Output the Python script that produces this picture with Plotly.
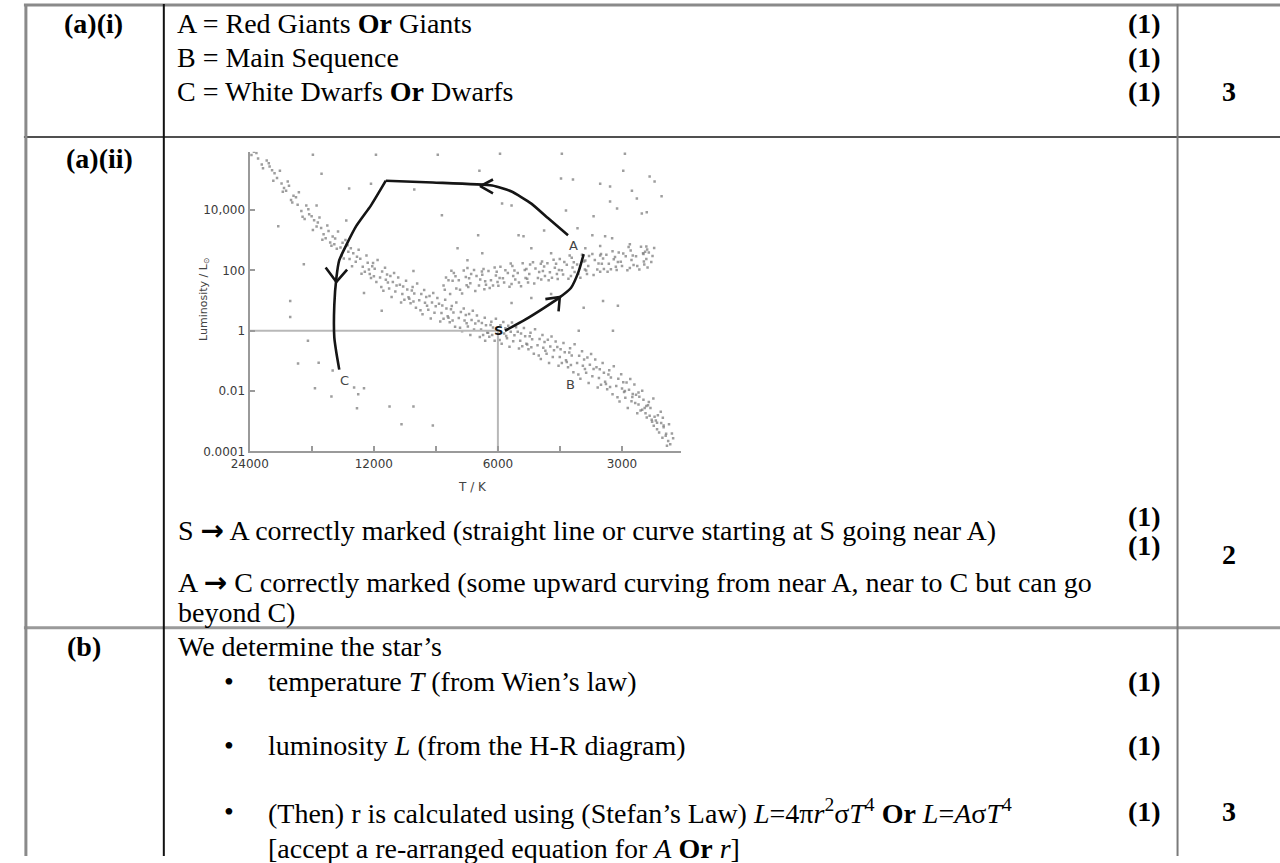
import numpy as np
import plotly.graph_objects as go

W, H = 1280, 863

# ---------------------------------------------------------------
# H-R diagram star samples, as (log10 T/K, log10 L/Lsun)
# ---------------------------------------------------------------
main_sequence = [
    (4.370, 5.94), (4.360, 5.72), (4.376, 5.83), (4.364, 5.90),
    (4.334, 5.56), (4.348, 5.39), (4.339, 5.65), (4.351, 5.52), (4.332, 5.45),
    (4.326, 5.33), (4.314, 5.07), (4.320, 5.23), (4.307, 5.31), (4.323, 4.98),
    (4.292, 4.65), (4.303, 4.89), (4.285, 4.81), (4.297, 4.74), (4.288, 4.95), (4.300, 4.61),
    (4.274, 4.48), (4.264, 4.18), (4.280, 4.34), (4.268, 4.43), (4.277, 4.26), (4.261, 4.60),
    (4.238, 4.03), (4.252, 3.78), (4.243, 4.16), (4.255, 3.97), (4.236, 3.87), (4.247, 3.71),
    (4.230, 3.80), (4.218, 3.46), (4.224, 3.67), (4.211, 3.76), (4.227, 3.34), (4.215, 3.59),
    (4.196, 3.07), (4.207, 3.41), (4.189, 3.31), (4.201, 3.20), (4.192, 3.49), (4.204, 3.02),
    (4.179, 3.13), (4.169, 2.72), (4.185, 2.93), (4.173, 3.06), (4.182, 2.82), (4.166, 3.29), (4.175, 2.87),
    (4.143, 2.84), (4.157, 2.50), (4.148, 3.01), (4.160, 2.76), (4.141, 2.62), (4.152, 2.40), (4.155, 2.92),
    (4.135, 2.74), (4.123, 2.29), (4.129, 2.57), (4.116, 2.69), (4.132, 2.14), (4.120, 2.46), (4.138, 2.38),
    (4.101, 1.96), (4.112, 2.39), (4.094, 2.26), (4.106, 2.12), (4.097, 2.50), (4.109, 1.89), (4.091, 2.03),
    (4.083, 2.14), (4.073, 1.62), (4.089, 1.88), (4.077, 2.06), (4.086, 1.75), (4.070, 2.35), (4.079, 1.81), (4.081, 2.25),
    (4.047, 1.87), (4.061, 1.45), (4.052, 2.09), (4.064, 1.77), (4.045, 1.60), (4.056, 1.33), (4.059, 1.97), (4.050, 1.69),
    (4.039, 1.82), (4.027, 1.30), (4.033, 1.62), (4.020, 1.77), (4.036, 1.12), (4.024, 1.50), (4.042, 1.40), (4.030, 1.92),
    (4.005, 1.03), (4.016, 1.53), (3.998, 1.37), (4.010, 1.22), (4.001, 1.66), (4.013, 0.94), (3.995, 1.11), (4.008, 1.47),
    (3.987, 1.34), (3.977, 0.76), (3.993, 1.06), (3.981, 1.24), (3.990, 0.91), (3.974, 1.57), (3.983, 0.97), (3.985, 1.45),
    (3.952, 1.12), (3.966, 0.68), (3.957, 1.35), (3.969, 1.01), (3.950, 0.83), (3.961, 0.55), (3.964, 1.22), (3.955, 0.93),
    (3.944, 1.15), (3.932, 0.60), (3.938, 0.94), (3.925, 1.09), (3.941, 0.41), (3.929, 0.81), (3.947, 0.70), (3.935, 1.25),
    (3.910, 0.40), (3.921, 0.90), (3.903, 0.74), (3.915, 0.59), (3.906, 1.03), (3.918, 0.31), (3.900, 0.48), (3.913, 0.84),
    (3.892, 0.71), (3.882, 0.13), (3.898, 0.43), (3.886, 0.61), (3.895, 0.28), (3.879, 0.94), (3.888, 0.34), (3.890, 0.82),
    (3.856, 0.52), (3.870, 0.10), (3.861, 0.74), (3.873, 0.42), (3.854, 0.25), (3.865, -0.02), (3.868, 0.62), (3.859, 0.34),
    (3.848, 0.56), (3.836, 0.04), (3.842, 0.36), (3.829, 0.51), (3.845, -0.14), (3.833, 0.24), (3.851, 0.14), (3.839, 0.66),
    (3.814, -0.14), (3.825, 0.32), (3.807, 0.18), (3.819, 0.04), (3.810, 0.43), (3.822, -0.21), (3.804, -0.06), (3.817, 0.26),
    (3.796, 0.19), (3.786, -0.33), (3.802, -0.07), (3.790, 0.11), (3.799, -0.20), (3.783, 0.40), (3.792, -0.14), (3.794, 0.30),
    (3.760, 0.08), (3.774, -0.31), (3.765, 0.29), (3.777, -0.01), (3.758, -0.17), (3.769, -0.43), (3.772, 0.18), (3.763, -0.09),
    (3.753, 0.17), (3.741, -0.35), (3.747, -0.03), (3.734, 0.12), (3.750, -0.53), (3.738, -0.15), (3.756, -0.25), (3.744, 0.27),
    (3.719, -0.51), (3.730, -0.03), (3.712, -0.18), (3.724, -0.33), (3.715, 0.09), (3.727, -0.59), (3.709, -0.43), (3.722, -0.09),
    (3.701, -0.18), (3.691, -0.76), (3.707, -0.46), (3.695, -0.28), (3.704, -0.61), (3.688, 0.05), (3.697, -0.55), (3.699, -0.07),
    (3.665, -0.37), (3.679, -0.82), (3.670, -0.14), (3.682, -0.48), (3.663, -0.66), (3.674, -0.94), (3.677, -0.27), (3.668, -0.56),
    (3.657, -0.30), (3.645, -0.87), (3.651, -0.52), (3.638, -0.36), (3.654, -1.07), (3.642, -0.65), (3.660, -0.76), (3.648, -0.19),
    (3.623, -1.07), (3.634, -0.54), (3.616, -0.71), (3.628, -0.87), (3.619, -0.41), (3.631, -1.16), (3.613, -0.98), (3.626, -0.61),
    (3.605, -0.72), (3.595, -1.38), (3.611, -1.04), (3.599, -0.82), (3.608, -1.21), (3.592, -0.45), (3.601, -1.14), (3.603, -0.58),
    (3.569, -0.95), (3.583, -1.45), (3.574, -0.68), (3.586, -1.07), (3.567, -1.27), (3.578, -1.59), (3.581, -0.83), (3.572, -1.16),
    (3.561, -0.89), (3.549, -1.51), (3.555, -1.13), (3.542, -0.95), (3.558, -1.73), (3.546, -1.27), (3.564, -1.39), (3.552, -0.77),
    (3.528, -1.79), (3.539, -1.21), (3.521, -1.39), (3.533, -1.57), (3.524, -1.07), (3.536, -1.88), (3.518, -1.69), (3.531, -1.28),
    (3.510, -1.45), (3.500, -2.11), (3.516, -1.77), (3.504, -1.55), (3.513, -1.94), (3.497, -1.18), (3.506, -1.87), (3.508, -1.31),
    (3.474, -1.71), (3.488, -2.21), (3.479, -1.44), (3.491, -1.83), (3.472, -2.03), (3.483, -2.35), (3.486, -1.59), (3.477, -1.92),
    (3.466, -1.72), (3.454, -2.34), (3.460, -1.96), (3.447, -1.78), (3.463, -2.56), (3.451, -2.10), (3.469, -2.22), (3.457, -1.60),
    (3.432, -2.65), (3.443, -2.12), (3.425, -2.29), (3.437, -2.45), (3.428, -1.99), (3.440, -2.74), (3.422, -2.56), (3.435, -2.19),
    (3.414, -2.47), (3.404, -3.02), (3.420, -2.74), (3.408, -2.56), (3.417, -2.88), (3.401, -2.25), (3.410, -2.82), (3.412, -2.36),
    (3.378, -2.89), (3.392, -3.27), (3.383, -2.69), (3.395, -2.98), (3.376, -3.14), (3.387, -3.38), (3.390, -2.80),
    (3.382, -3.06), (3.370, -3.42), (3.376, -3.20), (3.363, -3.10), (3.379, -3.55),
    (3.360, -3.77), (3.371, -3.48), (3.353, -3.57), (3.365, -3.66), (3.356, -3.41), (3.368, -3.82),
    (3.445, -2.40), (3.428, -2.62), (3.418, -2.50), (3.398, -2.85), (3.392, -3.05), (3.470, -2.00),
    (3.452, -2.20), (3.437, -2.05), (3.400, -3.15), (3.405, -2.95),
]

giant_branch = [
    (3.904, 1.77), (3.894, 1.22), (3.910, 1.50), (3.898, 1.68), (3.907, 1.36), (3.891, 1.99),
    (3.885, 1.92), (3.879, 1.40), (3.888, 1.66), (3.881, 1.81),
    (3.856, 1.78), (3.870, 1.36), (3.861, 2.00), (3.873, 1.68), (3.854, 1.51), (3.865, 1.24),
    (3.850, 1.45), (3.843, 1.88), (3.852, 2.08), (3.845, 1.58), (3.848, 1.74),
    (3.836, 2.02), (3.824, 1.50), (3.830, 1.82), (3.817, 1.97), (3.833, 1.32), (3.821, 1.70),
    (3.813, 2.05), (3.807, 1.53), (3.816, 1.86), (3.809, 1.64), (3.811, 1.38),
    (3.790, 1.50), (3.801, 1.98), (3.783, 1.83), (3.795, 1.68), (3.786, 2.10), (3.798, 1.42),
    (3.779, 1.62), (3.772, 2.12), (3.781, 1.96), (3.774, 1.75), (3.777, 1.49),
    (3.760, 2.01), (3.750, 1.46), (3.766, 1.74), (3.754, 1.92), (3.763, 1.60), (3.747, 2.23),
    (3.743, 2.15), (3.736, 1.70), (3.745, 1.55), (3.738, 2.00), (3.741, 1.82),
    (3.713, 2.02), (3.727, 1.60), (3.718, 2.24), (3.730, 1.92), (3.711, 1.75), (3.722, 1.48),
    (3.707, 1.73), (3.700, 2.20), (3.709, 2.05), (3.702, 1.88), (3.705, 1.60),
    (3.693, 2.27), (3.681, 1.75), (3.687, 2.07), (3.674, 2.22), (3.690, 1.57), (3.678, 1.95),
    (3.671, 2.30), (3.664, 1.82), (3.673, 1.70), (3.666, 2.13), (3.669, 1.98),
    (3.647, 1.76), (3.658, 2.24), (3.640, 2.09), (3.652, 1.94), (3.643, 2.36), (3.655, 1.68),
    (3.635, 1.88), (3.628, 2.38), (3.637, 2.22), (3.630, 2.02), (3.633, 1.72),
    (3.617, 2.28), (3.607, 1.73), (3.623, 2.01), (3.611, 2.19), (3.620, 1.87), (3.604, 2.50),
    (3.599, 2.42), (3.592, 1.95), (3.601, 1.82), (3.594, 2.27), (3.597, 2.10),
    (3.569, 2.30), (3.583, 1.88), (3.574, 2.52), (3.586, 2.20), (3.567, 2.03), (3.578, 1.76),
    (3.564, 2.00), (3.557, 2.48), (3.566, 2.33), (3.559, 2.15), (3.562, 1.88),
    (3.549, 2.55), (3.537, 2.03), (3.543, 2.35), (3.530, 2.50), (3.546, 1.85), (3.534, 2.23),
    (3.528, 2.55), (3.521, 2.05), (3.530, 1.96), (3.523, 2.40), (3.526, 2.22),
    (3.504, 2.04), (3.515, 2.52), (3.497, 2.37), (3.509, 2.22), (3.500, 2.64), (3.512, 1.96),
    (3.492, 2.12), (3.485, 2.60), (3.494, 2.45), (3.487, 2.28), (3.490, 2.02),
    (3.474, 2.56), (3.464, 2.01), (3.480, 2.29), (3.468, 2.47), (3.477, 2.15), (3.461, 2.78),
    (3.456, 2.66), (3.449, 2.18), (3.458, 2.08), (3.451, 2.50), (3.454, 2.35),
    (3.426, 2.57), (3.440, 2.15), (3.431, 2.79), (3.443, 2.47), (3.424, 2.30), (3.435, 2.03),
    (3.423, 2.20), (3.416, 2.70), (3.425, 2.55), (3.418, 2.38), (3.421, 2.62),
    (3.418, 2.80), (3.406, 2.28), (3.412, 2.60), (3.399, 2.75), (3.415, 2.10), (3.403, 2.48),
    (3.570, 0.76), (3.523, 0.99), (3.487, 0.83), (3.499, 0.00), (3.582, 0.00), (3.745, 0.92),
    (3.697, 1.09), (3.649, 1.22),
]

bright_scatter = [
    (4.227, 5.84), (4.074, 5.84), (3.924, 5.84), (4.206, 5.21), (4.139, 4.72), (4.086, 4.88),
    (4.218, 4.16), (4.311, 3.47), (4.146, 3.66), (3.981, 4.69), (3.914, 3.83), (3.823, 5.31),
    (3.826, 3.17), (3.983, 1.98), (4.060, 0.66), (4.103, 1.25), (4.249, 2.21), (4.282, 0.46),
    (4.282, 0.99), (3.773, 5.87), (3.623, 5.87), (3.470, 5.87), (3.474, 5.31), (3.625, 5.05),
    (3.596, 5.02), (3.530, 4.88), (3.506, 4.79), (3.410, 5.12), (3.398, 4.95), (3.453, 4.65),
    (3.441, 4.39), (3.381, 4.46), (3.506, 4.29), (3.489, 4.06), (3.613, 3.99), (3.546, 3.80),
    (3.429, 3.89), (3.417, 3.93), (3.768, 4.22), (3.745, 4.16), (3.728, 3.17), (3.716, 3.14),
    (3.666, 3.33), (3.585, 3.40), (3.549, 3.17), (3.518, 3.14), (3.501, 3.07), (3.697, 2.74),
    (3.649, 2.57), (3.566, 2.74), (3.530, 2.81), (3.458, 2.87), (3.876, 2.74), (3.852, 2.34),
    (3.816, 2.57),
]

white_dwarfs = [
    (4.239, -0.33), (4.263, -1.09), (4.213, -1.06), (4.179, -1.32), (4.222, -1.91),
    (4.127, -1.88), (4.103, -1.91), (4.117, -2.11), (4.182, -2.18), (4.120, -2.57),
    (4.041, -2.51), (3.983, -2.51), (4.012, -3.10), (3.936, -3.14), (3.809, -0.33),
]

# Hand-drawn evolutionary track (log10 T, log10 L)
track_s_to_a = [(3.761, 0.00), (3.713, 0.36), (3.666, 0.76), (3.630, 1.09),
                (3.601, 1.42), (3.582, 1.98), (3.570, 2.54)]
track_a_to_top = [(3.608, 3.17), (3.656, 3.73), (3.697, 4.22), (3.745, 4.62), (3.792, 4.82),
                  (3.936, 4.92), (4.050, 4.98)]
track_top_to_c = [(4.050, 4.98), (4.086, 4.16), (4.122, 3.47), (4.146, 2.84), (4.163, 2.34),
                  (4.170, 1.75), (4.175, 0.86), (4.175, -0.23), (4.170, -0.73), (4.163, -1.29)]
arrow_top = [(3.790, 5.02), (3.821, 4.80), (3.790, 4.56)]
arrow_left = [(4.196, 2.10), (4.170, 1.62), (4.144, 2.03)]
arrow_sa = [(3.663, 1.05), (3.628, 1.12), (3.631, 0.64)]

region_labels = ["A", "B", "C"]
region_label_pos = [(3.594, 2.84), (3.601, -1.78), (4.151, -1.65)]
sun_label_pos = (3.776, 0.0)

sun_temp, sun_lum = 6000, 1
temp_ticks = [24000, 16970, 12000, 8485, 6000, 4243, 3000]
temp_tick_text = ["24000", "", "12000", "", "6000", "", "3000"]
lum_ticks = [1e4, 1e2, 1, 1e-2, 1e-4]
lum_tick_text = ["10,000", "100", "1", "0.01", "0.0001"]

# ---------------------------------------------------------------
# Mark scheme text
# ---------------------------------------------------------------
ARROW = '<span style="font-family:DejaVu Sans"><b>→</b></span>'
part_labels = ["(a)(i)", "(a)(ii)", "(b)"]
part_a_i = ["A = Red Giants <b>Or</b> Giants",
            "B = Main Sequence",
            "C = White Dwarfs <b>Or</b> Dwarfs"]
part_a_ii = [f"S {ARROW} A correctly marked (straight line or curve starting at S going near A)",
             f"A {ARROW} C correctly marked (some upward curving from near A, near to C but can go",
             "beyond C)"]
part_b_intro = "We determine the star’s"
part_b_points = ["temperature <i>T</i> (from Wien’s law)",
                 "luminosity <i>L</i> (from the H-R diagram)",
                 "(Then) r is calculated using (Stefan’s Law) <i>L</i>=4π<i>r</i><sup>2</sup>σ<i>T</i><sup>4</sup>"
                 " <b>Or</b> <i>L</i>=<i>A</i>σ<i>T</i><sup>4</sup>"]
part_b_note = "[accept a re-arranged equation for <i>A</i> <b>Or</b> <i>r</i>]"
mark_each = "(1)"
part_totals = ["3", "2", "3"]


def px(x):
    return x / W


def py(y):
    return 1 - y / H


SERIF = "Liberation Serif, Times New Roman, serif"
SANS = "DejaVu Sans, Verdana, sans-serif"
TS = 28

fig = go.Figure()

# star samples
for group in (main_sequence, giant_branch, bright_scatter, white_dwarfs):
    fig.add_trace(go.Scatter(
        x=[10 ** p[0] for p in group], y=[10 ** p[1] for p in group],
        mode="markers", hoverinfo="skip",
        marker=dict(size=2.5, color="#7d7d7d", opacity=0.75, symbol="square", line=dict(width=0)),
    ))

# Sun reference lines
fig.add_trace(go.Scatter(x=[24000, sun_temp], y=[sun_lum, sun_lum], mode="lines",
                         line=dict(color="#b8b8b8", width=2), hoverinfo="skip"))
fig.add_trace(go.Scatter(x=[sun_temp, sun_temp], y=[1e-4, sun_lum], mode="lines",
                         line=dict(color="#b8b8b8", width=2), hoverinfo="skip"))

# evolutionary track with arrow heads
for path, smooth in ((track_s_to_a, True), (track_a_to_top, True), (track_top_to_c, True),
                     (arrow_top, False), (arrow_left, False), (arrow_sa, False)):
    fig.add_trace(go.Scatter(
        x=[10 ** p[0] for p in path], y=[10 ** p[1] for p in path],
        mode="lines", hoverinfo="skip",
        line=dict(color="#151515", width=2.6,
                  shape="spline" if smooth else "linear", smoothing=0.5),
    ))

annotations = []
for lab, (lt, ll) in zip(region_labels, region_label_pos):
    annotations.append(dict(xref="x", yref="y", x=lt, y=ll, text=lab, showarrow=False,
                            font=dict(family=SANS, size=13, color="#444444")))
annotations.append(dict(xref="x", yref="y", x=sun_label_pos[0], y=sun_label_pos[1], text="<b>S</b>",
                        showarrow=False, font=dict(family=SANS, size=13, color="#111111")))

# axis titles
annotations.append(dict(xref="paper", yref="paper", x=px(460), y=py(491), text="T / K",
                        showarrow=False, font=dict(family=SANS, size=12, color="#444444")))
annotations.append(dict(xref="paper", yref="paper", x=px(178), y=py(302), text="Luminosity / L<sub>⊙</sub>",
                        textangle=-90, showarrow=False, font=dict(family=SANS, size=11, color="#444444")))


def put_text(x, y, s, anchor, bold=False, size=TS):
    annotations.append(dict(xref="paper", yref="paper", x=px(x), y=py(y), xanchor=anchor,
                            yanchor="middle", text=f"<b>{s}</b>" if bold else s, showarrow=False,
                            font=dict(family=SERIF, size=size, color="#000000")))


# row (a)(i)
put_text(44, 24, part_labels[0], "left", bold=True)
for yy, s in zip([24, 58, 92], part_a_i):
    put_text(158, yy, s, "left")
    put_text(1161, yy, mark_each, "right", bold=True)
put_text(1228, 92, part_totals[0], "center", bold=True)

# row (a)(ii)
put_text(46, 160, part_labels[1], "left", bold=True)
for yy, s in zip([535, 587, 618], part_a_ii):
    put_text(159, yy, s, "left")
put_text(1161, 521, mark_each, "right", bold=True)
put_text(1161, 550, mark_each, "right", bold=True)
put_text(1228, 559, part_totals[1], "center", bold=True)

# row (b)
put_text(47, 652, part_labels[2], "left", bold=True)
put_text(159, 652, part_b_intro, "left")
for yy, s in zip([687, 752, 818], part_b_points):
    put_text(206, yy, "•", "left")
    put_text(251, yy, s, "left")
    put_text(1161, yy, mark_each, "right", bold=True)
put_text(251, 855, part_b_note, "left")
put_text(1228, 818, part_totals[2], "center", bold=True)

# table rules
shapes = []


def hline(y, x0, x1, color, width):
    shapes.append(dict(type="line", xref="paper", yref="paper", x0=px(x0), x1=px(x1),
                       y0=py(y), y1=py(y), line=dict(color=color, width=width)))


def vline(x, y0, y1, color, width):
    shapes.append(dict(type="line", xref="paper", yref="paper", x0=px(x), x1=px(x),
                       y0=py(y0), y1=py(y1), line=dict(color=color, width=width)))


hline(5, 5, 1280, "#8a8a8a", 3)
hline(138, 5, 1280, "#505050", 2)
hline(633, 5, 1280, "#9a9a9a", 3)
vline(7, 4, 863, "#8a8a8a", 3)
vline(147, 4, 863, "#111111", 2)
vline(1176, 4, 863, "#7a7a7a", 2)

x_lo, x_hi = 234, 672
y_top, y_bot = 153, 455

fig.update_layout(
    width=W, height=H,
    margin=dict(l=0, r=0, t=0, b=0),
    paper_bgcolor="white", plot_bgcolor="white",
    showlegend=False,
    annotations=annotations,
    shapes=shapes,
    xaxis=dict(
        type="log", domain=[px(x_lo), px(x_hi)],
        range=[np.log10(24000) + 0.0005, np.log10(2157)],
        tickvals=temp_ticks, ticktext=temp_tick_text,
        ticks="inside", ticklen=5, tickwidth=1.5, tickcolor="#9a9a9a",
        showline=True, linecolor="#9a9a9a", linewidth=2,
        showgrid=False, zeroline=False,
        tickfont=dict(family=SANS, size=12, color="#3a3a3a"),
    ),
    yaxis=dict(
        type="log", domain=[py(y_bot), py(y_top)],
        range=[-4.0005, 5.94],
        tickvals=lum_ticks, ticktext=lum_tick_text,
        ticks="inside", ticklen=5, tickwidth=1.5, tickcolor="#9a9a9a",
        showline=True, linecolor="#9a9a9a", linewidth=2,
        showgrid=False, zeroline=False,
        tickfont=dict(family=SANS, size=12, color="#3a3a3a"),
    ),
)

fig.write_html("out.html")
